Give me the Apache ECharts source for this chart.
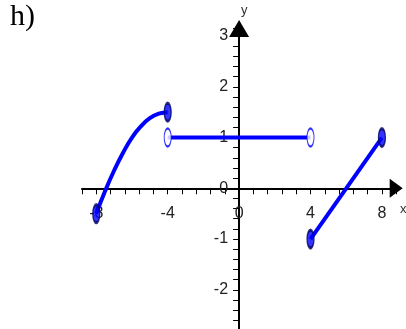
<!DOCTYPE html>
<html>
<head>
<meta charset="utf-8"/>
<title>h)</title>
<script src="https://cdn.jsdelivr.net/npm/echarts@6/dist/echarts.min.js"></script>
<style>
  html, body { margin: 0; padding: 0; background: #fff; }
</style>
</head>
<body>
<div id="Echarts" style="width: 406px;height: 329px;"></div>
<script>
// left piece (curve)
var curveX = [-8, -7.5, -7, -6.5, -6, -5.5, -5, -4.5, -4];
var curveY = [-0.5, -0.05, 0.35, 0.7, 1.0, 1.22, 1.38, 1.47, 1.5];
// middle piece y = 1, open ends
var midX = [-4, 4];
var midY = [1, 1];
// right piece
var rightX = [4, 8];
var rightY = [-1, 1];
// end points
var filledPts = [[-8, -0.5], [-4, 1.5], [4, -1], [8, 1]];
var openPts = [[-4, 1], [4, 1]];
// which tick values get a label
var xLabelStep = 4;
var yLabelStep = 1;

var xMin = -8.8, xMax = 8.8, yMin = -2.8, yMax = 3.15;
var gLeft = 82, gTop = 28.4, gW = 314.2, gH = 302;

function zip(a, b) {
    var out = [];
    for (var i = 0; i < a.length; i++) out.push([a[i], b[i]]);
    return out;
}
function isStep(v, step) {
    var q = v / step;
    return Math.abs(q - Math.round(q)) < 1e-6;
}

var blue = '#0000ff';
var labelFont = { fontFamily: 'Liberation Sans', fontSize: 16, color: '#222' };

// shift the axes onto the zero lines (labels don't follow onZero here)
var xOff = -(0 - yMin) / (yMax - yMin) * gH;
var yOff = -(0 - xMin) / (xMax - xMin) * gW;

var myChart = echarts.init(document.getElementById('Echarts'));
myChart.setOption({
    animation: false,
    grid: { left: gLeft, top: gTop, width: gW, height: gH, containLabel: false, outerBoundsMode: 'none' },
    xAxis: {
        type: 'value',
        min: xMin,
        max: xMax,
        interval: 0.8,
        position: 'bottom',
        offset: xOff,
        axisLine: {
            onZero: false,
            symbol: ['none', 'triangle'],
            symbolSize: [19, 13],
            lineStyle: { color: '#000', width: 2 }
        },
        axisTick: { length: 6, lineStyle: { color: '#000', width: 1 } },
        axisLabel: Object.assign({
            margin: 17,
            formatter: function (v) { return isStep(v, xLabelStep) ? String(Math.round(v)) : ''; }
        }, labelFont),
        splitLine: { show: false }
    },
    yAxis: {
        type: 'value',
        min: yMin,
        max: yMax,
        interval: 0.2,
        position: 'left',
        offset: yOff,
        axisLine: {
            onZero: false,
            symbol: ['none', 'triangle'],
            symbolSize: [20, 17],
            lineStyle: { color: '#000', width: 2 }
        },
        axisTick: { length: 6, lineStyle: { color: '#000', width: 1 } },
        axisLabel: Object.assign({
            margin: 11,
            formatter: function (v) { return isStep(v, yLabelStep) ? String(Math.round(v)) : ''; }
        }, labelFont),
        splitLine: { show: false }
    },
    graphic: [
        { type: 'text', left: 10, top: 2, style: { text: 'h)', font: '30px "Liberation Serif"', fill: '#000' } },
        { type: 'text', left: 241, top: 4, style: { text: 'y', font: '13px "Liberation Sans"', fill: '#333' } },
        { type: 'text', left: 400, top: 203, style: { text: 'x', font: '13px "Liberation Sans"', fill: '#333' } }
    ],
    series: [
        {
            type: 'line', smooth: true, symbol: 'none',
            data: zip(curveX, curveY),
            lineStyle: { color: blue, width: 4 }
        },
        {
            type: 'line', symbol: 'none',
            data: zip(midX, midY),
            lineStyle: { color: blue, width: 4 }
        },
        {
            type: 'line', symbol: 'none',
            data: zip(rightX, rightY),
            lineStyle: { color: blue, width: 4 }
        },
        {
            type: 'scatter', symbol: 'circle', symbolSize: [7, 18], z: 5,
            data: filledPts,
            itemStyle: { color: blue, borderColor: '#000060', borderWidth: 2 }
        },
        {
            type: 'scatter', symbol: 'circle', symbolSize: [7, 18], z: 5,
            data: openPts,
            itemStyle: { color: '#fff', borderColor: blue, borderWidth: 1.5 }
        }
    ]
});
</script>
</body>
</html>
